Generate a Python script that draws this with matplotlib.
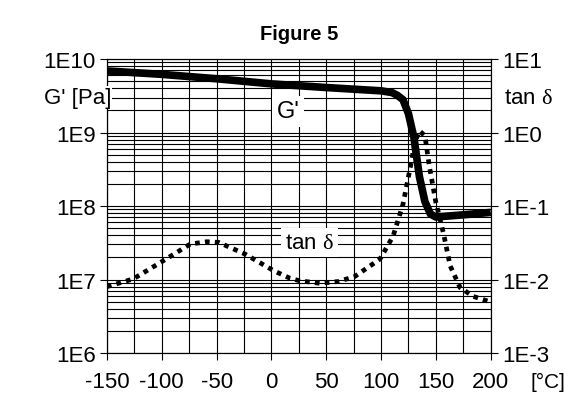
import matplotlib.pyplot as plt
import numpy as np

plt.rcParams['font.family'] = ['Liberation Sans', 'DejaVu Sans']
plt.rcParams['axes.unicode_minus'] = False
plt.rcParams['mathtext.fontset'] = 'custom'
plt.rcParams['mathtext.rm'] = 'Liberation Serif'

# G' [Pa] vs temperature
g_temp = [-150, -100, -50, 0, 50, 100, 110, 115, 120, 125, 130, 135, 140, 145, 150, 175, 200]
g_mod = [6.9e9, 6.2e9, 5.4e9, 4.6e9, 4.1e9, 3.7e9, 3.5e9, 3.2e9, 2.8e9, 1.8e9,
         8.5e8, 2.5e8, 1.15e8, 7.8e7, 7.1e7, 7.6e7, 8.2e7]

# tan delta vs temperature
t_temp = [-150, -126, -100, -74, -59, -48, -24, 2, 17, 26, 44, 61, 76, 99, 111,
          120, 126, 131, 135, 140, 144, 150, 157, 163, 172, 184, 199]
t_tan = [0.008, 0.0102, 0.0175, 0.0304, 0.0327, 0.032, 0.0222, 0.0132, 0.0104,
         0.0096, 0.0089, 0.0094, 0.011, 0.019, 0.039, 0.106, 0.3, 0.75, 1.06,
         0.9, 0.35, 0.112, 0.042, 0.0154, 0.0078, 0.0059, 0.005]

fig = plt.figure(figsize=(5.78, 4.06), dpi=100)
ax = fig.add_axes([0.185, 0.128, 0.664, 0.724])
ax.set_yscale('log')
ax.set_xlim(-150, 200)
ax.set_ylim(1e6, 1e10)
ax.set_xticks(np.arange(-150, 201, 50))
ax.set_xticks(np.arange(-150, 201, 25), minor=True)
ax.set_yticks([1e6, 1e7, 1e8, 1e9, 1e10])
ax.set_yticklabels(['1E6', '1E7', '1E8', '1E9', '1E10'])
ax.grid(True, which='both', color='black', linewidth=0.8)
ax.tick_params(which='major', direction='out', length=5, width=0.8, labelsize=16)
ax.tick_params(axis='y', pad=3)
ax.tick_params(axis='x', pad=8)
ax.tick_params(which='minor', length=0)
for s in ax.spines.values():
    s.set_linewidth(0.8)

ax.plot(g_temp, g_mod, color='black', linewidth=5.5, solid_capstyle='butt', zorder=3)

ax2 = ax.twinx()
ax2.set_yscale('log')
ax2.set_ylim(1e-3, 1e1)
ax2.set_yticks([1e-3, 1e-2, 1e-1, 1e0, 1e1])
ax2.set_yticklabels(['1E-3', '1E-2', '1E-1', '1E0', '1E1'])
ax2.yaxis.set_minor_locator(plt.NullLocator())
ax2.tick_params(direction='out', length=5, width=0.8, labelsize=16, pad=3)
ax2.plot(t_temp, t_tan, color='black', linewidth=3.4, linestyle=(0, (1, 1.1)), zorder=3)

tan_label = r'tan $\mathrm{\delta}$'
box = dict(facecolor='white', edgecolor='none', pad=3)
ax.text(15, 1.95e9, "G'", fontsize=17, ha='center', va='center', bbox=box, zorder=4)
ax.text(35, 3.2e7, tan_label, fontsize=16, ha='center', va='center', bbox=box, zorder=4)
fig.text(0.135, 0.758, "G' [Pa]", fontsize=16, ha='center', va='center',
         bbox=dict(facecolor='white', edgecolor='none', pad=0.5))
fig.text(0.915, 0.758, tan_label, fontsize=16, ha='center', va='center')
fig.text(0.948, 0.058, '[°C]', fontsize=15, ha='center', va='center')
fig.text(0.518, 0.914, 'Figure 5', fontsize=14.5, fontweight='bold', ha='center', va='center')

fig.savefig('out.png', dpi=100)
